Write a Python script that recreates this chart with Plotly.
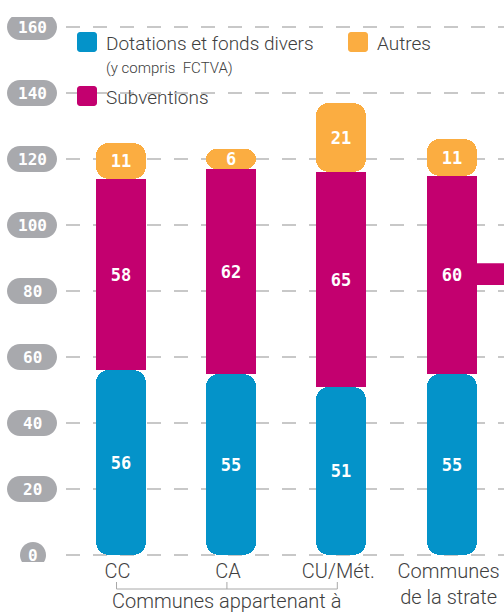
import plotly.graph_objects as go

# ---------------- data ----------------
categories = ["CC", "CA", "CU/Mét.", "Communes<br>de la strate"]
dotations = [56, 55, 51, 55]
subventions = [58, 62, 65, 60]
autres = [11, 6, 21, 11]
y_ticks = [0, 20, 40, 60, 80, 100, 120, 140, 160]
group_label = "Communes appartenant à"
legend_labels = {
    "dot": "Dotations et fonds divers",
    "dot_sub": "(y compris  FCTVA)",
    "sub": "Subventions",
    "aut": "Autres",
}

# ---------------- style ----------------
BLUE = "#0493C9"
MAGENTA = "#C3006F"
ORANGE = "#FBAD41"
PILL = "#A8A9AD"
GRID = "#C8C8C8"
TXT = "#404040"
LABEL_FONT = "Roboto, Lato, sans-serif"
NUM_FONT = "DejaVu Sans Mono, monospace"

W, H = 504, 614
ML, MR, MT, MB = 66, 0, 17, 52
PW, PH = W - ML - MR, H - MT - MB


def px(x):
    return (x - ML) / PW


def py(y):
    return (H - MB - y) / PH


def rounded(hw, hh, r):
    k = 0.5523 * r
    a, b = hw - r, hh - r
    return (f"M {-a},{-hh} L {a},{-hh} C {a + k},{-hh} {hw},{-b - k} {hw},{-b} "
            f"L {hw},{b} C {hw},{b + k} {a + k},{hh} {a},{hh} "
            f"L {-a},{hh} C {-a - k},{hh} {-hw},{b + k} {-hw},{b} "
            f"L {-hw},{-b} C {-hw},{-b - k} {-a - k},{-hh} {-a},{-hh} Z")


x_idx = list(range(len(categories)))
bar_w = 0.453
tops_sub = [d + s for d, s in zip(dotations, subventions)]

fig = go.Figure()
common = dict(width=bar_w, textposition="inside", insidetextanchor="middle",
              textangle=0, constraintext="none",
              textfont=dict(family=NUM_FONT, size=17, color="white", weight="bold"),
              showlegend=False)
# blue: drawn downward from its top so that the bottom end gets the rounding
fig.add_bar(x=x_idx, y=[-v for v in dotations], base=dotations,
            marker=dict(color=BLUE, cornerradius=13, line_width=0),
            text=[str(v) for v in dotations], name=legend_labels["dot"],
            customdata=dotations, hovertemplate="%{customdata}<extra></extra>", **common)
fig.add_bar(x=x_idx, y=subventions, base=dotations,
            marker=dict(color=MAGENTA, cornerradius=0, line_width=0),
            text=[str(v) for v in subventions], name=legend_labels["sub"], **common)
fig.add_bar(x=x_idx, y=autres, base=tops_sub,
            marker=dict(color=ORANGE, cornerradius=13, line_width=0),
            text=[str(v) for v in autres], name=legend_labels["aut"], **common)

shapes = []
annotations = []

# connector stub leaving the last bar to the right
STUB = (81.8, 88.4)
shapes.append(dict(type="rect", xref="x", yref="y", x0=x_idx[-1] + bar_w / 2 - 0.01,
                   x1=x_idx[-1] + 1, y0=STUB[0], y1=STUB[1],
                   fillcolor=MAGENTA, line_width=0, layer="above"))

# y tick pills
for t in y_ticks:
    hw = 13 if t == 0 else 25
    cx = 33 if t == 0 else 32
    shapes.append(dict(type="path", xref="paper", yref="y", xsizemode="pixel",
                       ysizemode="pixel", xanchor=px(cx), yanchor=t,
                       path=rounded(hw, 13, 13), fillcolor=PILL, line_width=0))
    annotations.append(dict(x=px(cx), y=t, xref="paper", yref="y", text=str(t),
                            showarrow=False, xanchor="center", yanchor="middle",
                            font=dict(family=NUM_FONT, size=16, color="white", weight="bold")))

# custom legend
leg = [("dot", BLUE, 87, 42), ("sub", MAGENTA, 87, 96), ("aut", ORANGE, 358, 42)]
for key, col, cx, cy in leg:
    shapes.append(dict(type="path", xref="paper", yref="paper", xsizemode="pixel",
                       ysizemode="pixel", xanchor=px(cx), yanchor=py(cy),
                       path=rounded(10, 10, 3), fillcolor=col, line_width=0))
    annotations.append(dict(x=px(cx + 17), y=py(cy + 1), xref="paper", yref="paper",
                            text=legend_labels[key], showarrow=False, xanchor="left",
                            yanchor="middle",
                            font=dict(family=LABEL_FONT, size=19, color=TXT, weight=300)))
annotations.append(dict(x=px(104), y=py(68), xref="paper", yref="paper",
                        text=legend_labels["dot_sub"], showarrow=False, xanchor="left",
                        yanchor="middle",
                        font=dict(family=LABEL_FONT, size=15, color=TXT, weight=300)))

# bracket under the grouped categories
off = -4 / (PW / (3.474 + 0.494))
br_col = "#A8A8A8"
shapes.append(dict(type="line", xref="x", yref="paper", x0=x_idx[0] + off, x1=x_idx[2] + off,
                   y0=py(589), y1=py(589), line=dict(color=br_col, width=1)))
for i in x_idx[:3]:
    shapes.append(dict(type="line", xref="x", yref="paper", x0=i + off, x1=i + off,
                       y0=py(582), y1=py(589), line=dict(color=br_col, width=1)))
annotations.append(dict(x=x_idx[1] + off, y=py(601), xref="x", yref="paper", text=group_label,
                        showarrow=False, xanchor="center", yanchor="middle",
                        font=dict(family=LABEL_FONT, size=20, color=TXT, weight=300)))

fig.update_layout(
    width=W, height=H, margin=dict(l=ML, r=MR, t=MT, b=MB),
    paper_bgcolor="white", plot_bgcolor="white",
    barmode="overlay", bargap=0, showlegend=False,
    uniformtext=dict(minsize=17, mode="show"),
    shapes=shapes, annotations=annotations,
    xaxis=dict(range=[-0.494, 3.474], tickmode="array", tickvals=x_idx, ticktext=categories,
               showgrid=False, zeroline=False, showline=False, ticks="",
               tickfont=dict(family=LABEL_FONT, size=20, color=TXT, weight=300),
               ticklabelshift=-3, ticklabelstandoff=-5),
    yaxis=dict(range=[-2.12, 163.03], tickvals=y_ticks, showticklabels=False,
               showgrid=True, gridcolor=GRID, gridwidth=1.5, griddash="14px,13px",
               zeroline=False, showline=False, ticks=""),
)

fig.write_html("out.html", config={"displayModeBar": False},
               post_script="document.body.style.margin='0px';")
